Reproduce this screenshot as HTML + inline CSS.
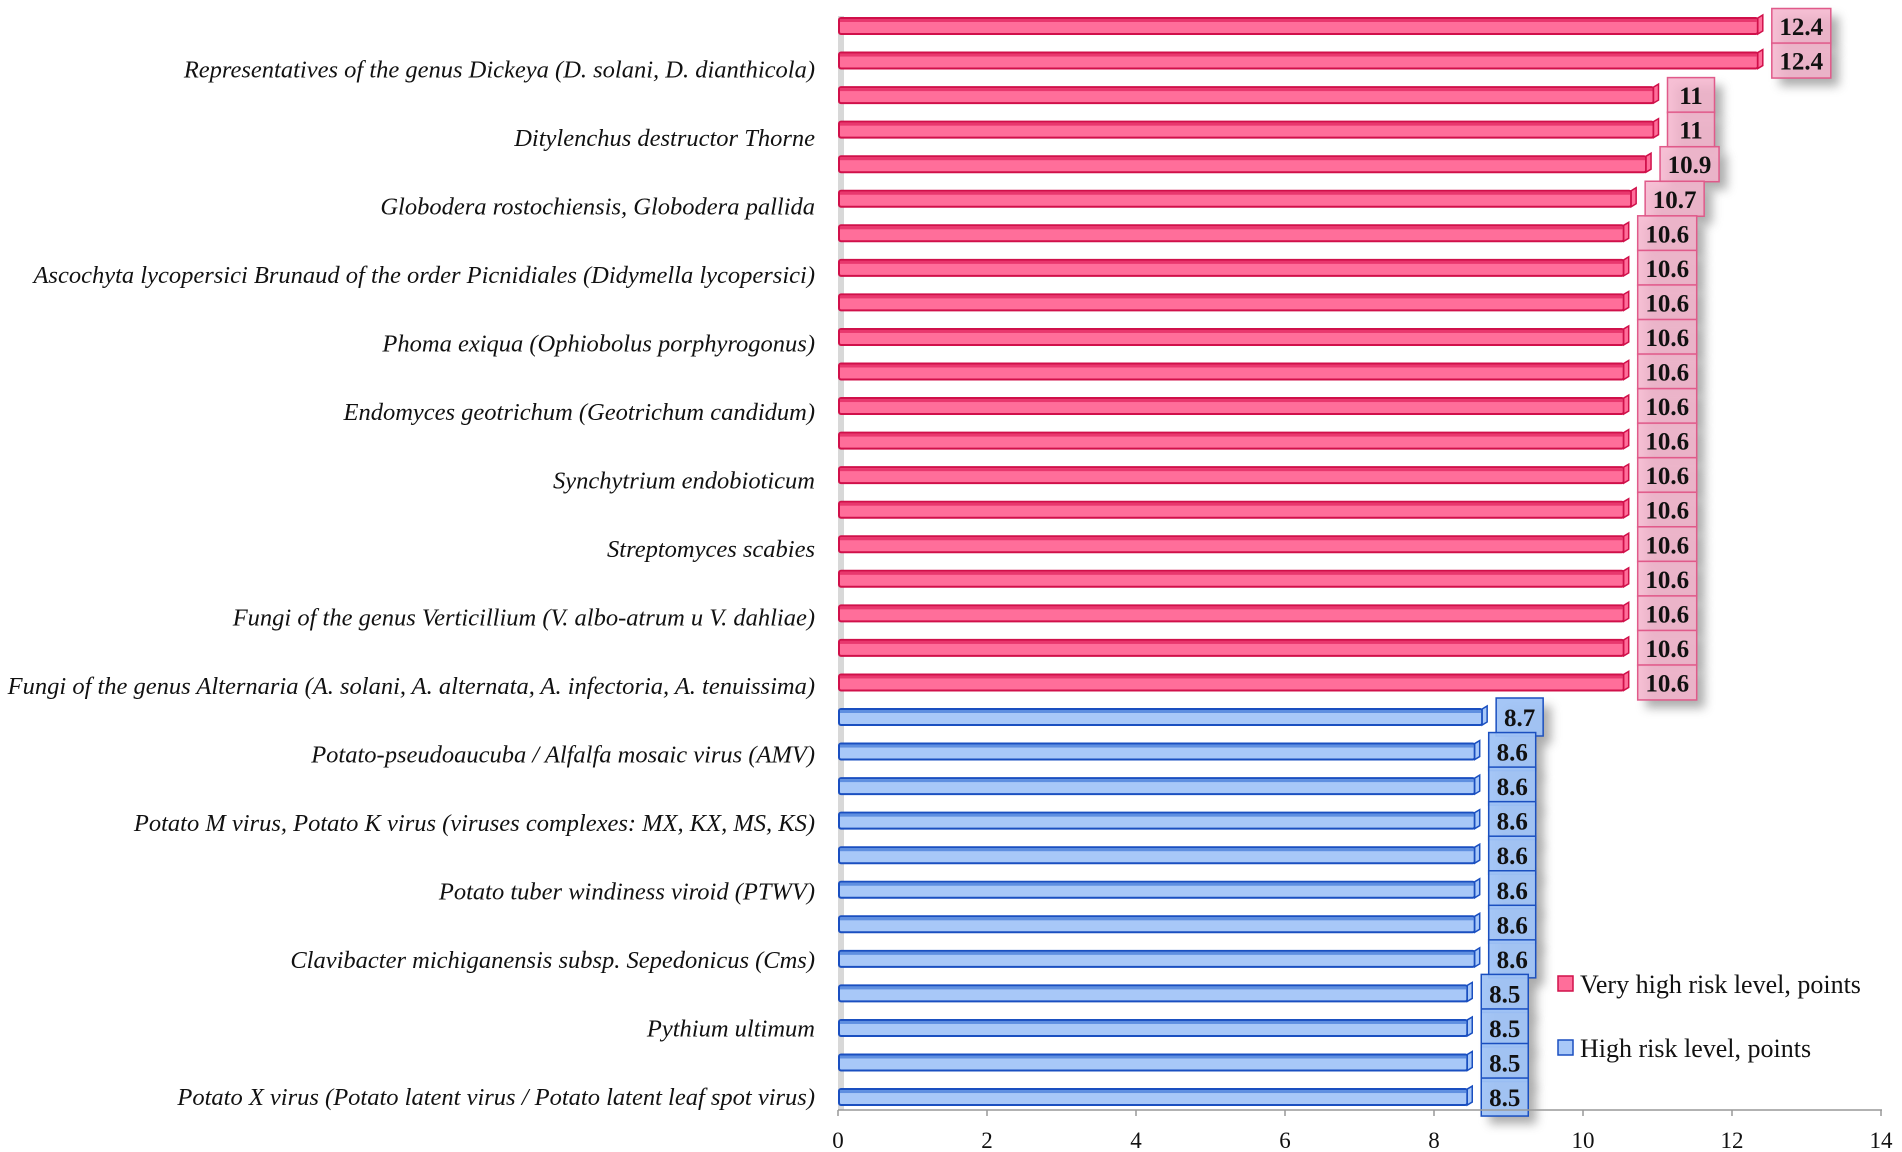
<!DOCTYPE html>
<html><head><meta charset="utf-8"><style>
html,body{margin:0;padding:0;background:#fff;}
svg{display:block;}
text{font-family:"Liberation Serif",serif;}
</style></head><body>
<svg id="chart" width="1902" height="1152" viewBox="0 0 1902 1152" xmlns="http://www.w3.org/2000/svg">
<defs><filter id="sh" x="-50%" y="-50%" width="200%" height="200%"><feGaussianBlur stdDeviation="5"/></filter></defs>
<rect x="838" y="16" width="6" height="1094" fill="#d8d8d8"/>
<g id="bars"></g>
<g id="labels"></g>
<line x1="838" y1="1110" x2="1882" y2="1110" stroke="#999" stroke-width="1.5"/>
<g id="ticks"></g>
<g>
<rect x="1558" y="976" width="15" height="15" fill="#ff6e9a" stroke="#d0104a" stroke-width="1.5"/>
<text x="1580" y="993" font-size="26" fill="#111">Very high risk level, points</text>
<rect x="1558" y="1040" width="15" height="15" fill="#a8c8f8" stroke="#1a4fc0" stroke-width="1.5"/>
<text x="1580" y="1057" font-size="26" fill="#111">High risk level, points</text>
</g>
</svg>
<script>
const values = [12.4,12.4,11,11,10.9,10.7,10.6,10.6,10.6,10.6,10.6,10.6,10.6,10.6,10.6,10.6,10.6,10.6,10.6,10.6,8.7,8.6,8.6,8.6,8.6,8.6,8.6,8.6,8.5,8.5,8.5,8.5];
const series = ["vh","vh","vh","vh","vh","vh","vh","vh","vh","vh","vh","vh","vh","vh","vh","vh","vh","vh","vh","vh","h","h","h","h","h","h","h","h","h","h","h","h"];
const categoryLabels = ["Representatives of the genus Dickeya (D. solani, D. dianthicola)","Ditylenchus destructor Thorne","Globodera rostochiensis, Globodera pallida","Ascochyta lycopersici Brunaud of the order Picnidiales (Didymella lycopersici)","Phoma exiqua (Ophiobolus porphyrogonus)","Endomyces geotrichum (Geotrichum candidum)","Synchytrium endobioticum","Streptomyces scabies","Fungi of the genus Verticillium (V. albo-atrum u V. dahliae)","Fungi of the genus Alternaria (A. solani, A. alternata, A. infectoria, A. tenuissima)","Potato-pseudoaucuba / Alfalfa mosaic virus (AMV)","Potato M virus, Potato K virus (viruses complexes: MX, KX, MS, KS)","Potato tuber windiness viroid (PTWV)","Clavibacter michiganensis subsp. Sepedonicus (Cms)","Pythium ultimum","Potato X virus (Potato latent virus / Potato latent leaf spot virus)"];
const ticks = [0,2,4,6,8,10,12,14];
const NS="http://www.w3.org/2000/svg";
const x0=838, x1=1881, xmax=14, yTop=26, yStep=34.55, bh=16;
const xs=v=>x0+(x1-x0)*v/xmax;
const yc=i=>yTop+i*yStep;
const colors={vh:{f:"#ff6e9a",s:"#d0104a",top:"#e8386e",box:"rgba(245,180,205,0.85)",bs:"#e05a8a"},h:{f:"#a8c8f8",s:"#1a4fc0",top:"#5f8fe0",box:"rgba(160,195,245,0.95)",bs:"#1a4fc0"}};
function mk(t,a,p){const e=document.createElementNS(NS,t);for(const k in a)e.setAttribute(k,a[k]);p.appendChild(e);return e;}
const gb=document.getElementById('bars');
values.forEach((v,i)=>{
  const c=colors[series[i]];const y=yc(i);const xe=xs(v);
  const g=mk('g',{},gb);
  
  
  mk('rect',{x:x0+1,y:y-bh/2,width:xe-x0-5,height:bh,rx:2,fill:c.f,stroke:c.s,'stroke-width':2},g);
  mk('rect',{x:x0+2,y:y-bh/2+1,width:xe-x0-7,height:3,fill:c.top},g);
  mk('polygon',{points:`${xe-4},${y-bh/2} ${xe+1},${y-bh/2-3} ${xe+1},${y+bh/2-3} ${xe-4},${y+bh/2}`,fill:c.f,stroke:c.s,'stroke-width':1.5},g);
  const txt=String(v);
  const bw=txt.length>=4?59:47, bhh=series[i]==="vh"?35:38;
  const bx=xe+10, by=y-bhh/2;
  mk('rect',{x:bx+8,y:by+8,width:bw,height:bhh,fill:'#777',opacity:0.6,filter:'url(#sh)'},g);
  const box=mk('rect',{x:bx,y:by,width:bw,height:bhh,fill:c.box,stroke:c.bs,'stroke-width':1.5},g);
  
  
  const t=mk('text',{x:bx+bw/2,y:y+9,'text-anchor':'middle','font-size':25,'font-weight':'bold',fill:'#111'},g);
  t.textContent=txt;
  
  
});
const gl=document.getElementById('labels');
categoryLabels.forEach((s,k)=>{
  const i=2*k+1;
  const t=mk('text',{x:815,y:yc(i)+17-k*0.6,'text-anchor':'end','font-size':24.5,'font-style':'italic',fill:'#111'},gl);
  t.textContent=s;
  
  
});
const gt=document.getElementById('ticks');
ticks.forEach(v=>{
  const l=mk('line',{x1:xs(v),x2:xs(v),y1:1110,y2:1116,stroke:'#999','stroke-width':1.5},gt);
  
  
  const t=mk('text',{x:xs(v),y:1148,'text-anchor':'middle','font-size':23,fill:'#111'},gt);
  t.textContent=v;
  
  
});
</script>
</body></html>
